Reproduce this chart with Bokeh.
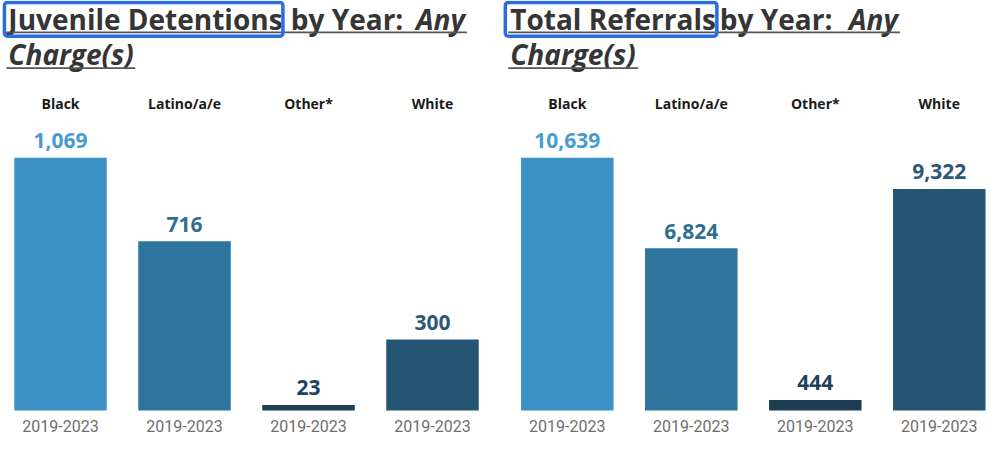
from bokeh.plotting import figure
from bokeh.models import Range1d, BoxAnnotation, ColumnDataSource
from bokeh.layouts import row
from bokeh.embed import file_html
from bokeh.resources import INLINE
from bokeh.core.properties import value

# ---------------- data ----------------
categories = ["Black", "Latino/a/e", "Other*", "White"]
period_labels = ["2019-2023", "2019-2023", "2019-2023", "2019-2023"]
detentions = [1069, 716, 23, 300]
referrals = [10639, 6824, 444, 9322]
bar_colors = ["#3b91c6", "#2e749c", "#1d3d52", "#245674"]
value_colors = ["#4a9bcd", "#2f6f94", "#23435a", "#2c5878"]

# ---------------- layout (reference pixels, scaled to fit) ----------------
W, H = 493, 437
SX = 986 / 1002
SY = 437 / 453
BASE_REF = 425.0     # bar baseline
TOP_REF = 163.0      # top of tallest bar
STEP_REF = 126.0     # bar spacing
BAR_REF = 94.0       # bar width
HEADER_REF = 107.0
YEAR_REF = 441.0
VALUE_GAP_REF = 10.0

TITLE_COLOR = "#353535"
TITLE_SIZE = "28px"


def make_chart(values, title_main, offset, c0_ref, t_left, by_left, any_right,
               box, ul1, ul2):
    vmax = max(values)
    base_px = BASE_REF * SY
    top_px = TOP_REF * SY
    k = vmax / (base_px - top_px)  # data units per pixel
    step_px = STEP_REF * SX

    def yd(ref_y):
        return (base_px - ref_y * SY) * k

    def xd(ref_x):
        return (ref_x * SX - offset - (c0_ref * SX - offset)) / step_px

    p = figure(width=W, height=H, output_backend="svg", toolbar_location=None,
               x_range=Range1d(xd(offset / SX), xd((offset + W) / SX)),
               y_range=Range1d((base_px - H) * k, base_px * k),
               x_axis_type=None, y_axis_type=None, tools="",
               min_border=0, min_border_left=0, min_border_right=0,
               min_border_top=0, min_border_bottom=0,
               outline_line_color=None, background_fill_color="white",
               border_fill_color="white")
    p.grid.visible = False

    xs = list(range(len(categories)))
    src = ColumnDataSource(dict(
        x=xs, v=values, color=bar_colors, vcolor=value_colors,
        label=[f"{v:,}" for v in values],
        ly=[v + VALUE_GAP_REF * SY * k for v in values],
        cat=categories, hy=[yd(HEADER_REF)] * len(xs),
        per=period_labels, py=[yd(YEAR_REF)] * len(xs),
    ))

    p.vbar(x="x", top="v", bottom=0, width=BAR_REF / STEP_REF, fill_color="color",
           line_color=None, source=src)

    p.text(x="x", y="ly", text="label", text_color="vcolor", text_align="center",
           text_baseline="bottom", text_font=value("Open Sans"), text_font_size="21px",
           text_font_style="bold", source=src)

    p.text(x="x", y="hy", text="cat", text_color="#1a1a1a", text_align="center",
           text_baseline="middle", text_font=value("Open Sans"), text_font_size="14px",
           text_font_style="bold", source=src)

    p.text(x="x", y="py", text="per", text_color="#6e6e6e", text_align="center",
           text_baseline="middle", text_font=value("Roboto"), text_font_size="16px",
           source=src)

    # title (two lines, mixed styles)
    l1 = yd(19.5)
    l2 = yd(55.0)
    common = dict(text_font=value("Open Sans"), text_font_size=TITLE_SIZE,
                  text_color=TITLE_COLOR, text_baseline="middle")
    p.text(x=[xd(t_left)], y=[l1], text=[title_main], text_font_style="bold",
           text_align="left", **common)
    p.text(x=[xd(by_left)], y=[l1], text=["by Year:"], text_font_style="bold",
           text_align="left", **common)
    p.text(x=[xd(any_right)], y=[l1], text=["Any"], text_font_style="bold italic",
           text_align="right", **common)
    p.text(x=[xd(t_left)], y=[l2], text=["Charge(s)"], text_font_style="bold italic",
           text_align="left", **common)

    # underlines
    for (a, b, uy) in (ul1, ul2):
        p.add_layout(BoxAnnotation(left=xd(a), right=xd(b), top=yd(uy - 0.9),
                                   bottom=yd(uy + 0.9), fill_color="#555555",
                                   fill_alpha=1, line_color=None))
    # highlight box
    bl, br, bt, bb = box
    p.add_layout(BoxAnnotation(left=xd(bl), right=xd(br), top=yd(bt), bottom=yd(bb),
                               fill_alpha=0, line_color="#2b6ce2", line_width=3.5,
                               line_alpha=1, border_radius=3))
    return p


p1 = make_chart(detentions, "Juvenile Detentions", 0, 61, 8, 295, 472,
                (4, 287, 2, 37), (6, 474, 33), (6, 137, 70))
p2 = make_chart(referrals, "Total Referrals", W, 576, 518, 731, 912,
                (513, 728, 2, 37), (516, 914, 33), (516, 648, 70))

layout = row(p1, p2, spacing=0)
open("out.html", "w").write(file_html(layout, INLINE))
